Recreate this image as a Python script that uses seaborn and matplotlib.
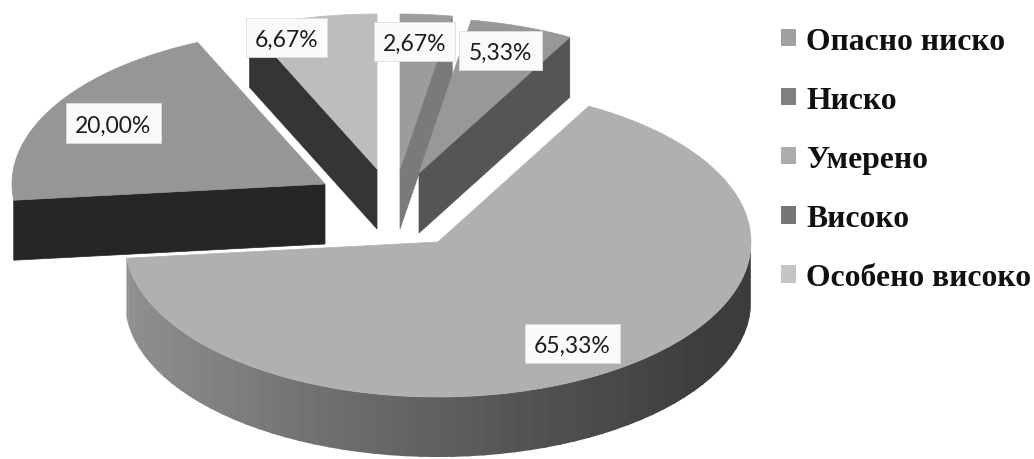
import numpy as np
import matplotlib
matplotlib.use("Agg")
import matplotlib.pyplot as plt
from matplotlib.patches import Patch, Rectangle
import seaborn as sns

# Share of each risk level, in percent
categories = ["Опасно ниско", "Ниско", "Умерено", "Високо", "Особено високо"]
shares = [2.67, 5.33, 65.33, 20.00, 6.67]
share_labels = ["2,67%", "5,33%", "65,33%", "20,00%", "6,67%"]

# Drawing style per slice
top_grays = ["#9c9c9c", "#989898", "#b0b0b0", "#969696", "#bdbdbd"]
cut_grays = ["#7a7a7a", "#555555", "#9a9a9a", "#262626", "#353535"]
legend_grays = ["#a0a0a0", "#7f7f7f", "#acacac", "#757575", "#c4c4c4"]

# Exploded position of each slice tip on the top surface
tips = [(400, 170), (419, 174), (438, 243), (325, 185), (377, 170)]
label_boxes = [(374, 23, 81, 39), (459, 32, 83, 39), (525, 325, 95, 39),
               (66, 104, 95, 40), (246, 19, 81, 39)]
RX, RY, DEPTH = 313, 155, 60

sns.set_theme(style="white")
fig = plt.figure(figsize=(10.34, 4.6), dpi=100)
ax = fig.add_axes([0, 0, 1, 1])
ax.set_xlim(0, 1034)
ax.set_ylim(460, 0)
ax.axis("off")

ends = np.cumsum(shares) / np.sum(shares) * 360
starts = np.r_[0, ends[:-1]]
wall_ramp = sns.blend_palette(["#3a3a3a", "#3e3e3e", "#505050", "#6a6a6a", "#848484", "#929292"], 60)


def rim(tip, deg):
    """Screen position of a rim point, angle measured clockwise from the top."""
    t = np.radians(deg)
    return tip[0] + RX * np.sin(t), tip[1] - RY * np.cos(t)


# Back slices first, the large front slice last
for i in [4, 0, 1, 3, 2]:
    a, b = starts[i], ends[i]
    tip = tips[i]

    # Radial cut face, only where it turns toward the viewer
    cut = b if b < 180 else (a if a > 180 else None)
    if cut is not None:
        ex, ey = rim(tip, cut)
        ax.fill([tip[0], ex, ex, tip[0]],
                [tip[1], ey, ey + DEPTH, tip[1] + DEPTH],
                color=cut_grays[i], lw=0.5, zorder=i + 1)

    # Outer wall on the front half of the rim
    lo, hi = max(a, 90), min(b, 270)
    if lo < hi and i == 2:
        edges = np.linspace(lo, hi, len(wall_ramp) + 1)
        for c, e0, e1 in zip(wall_ramp, edges[:-1], edges[1:]):
            arc = np.linspace(e0, e1 + 0.6, 6)
            xs, ys = rim(tip, arc)
            ax.fill(np.r_[xs, xs[::-1]], np.r_[ys, ys[::-1] + DEPTH],
                    color=c, lw=0, zorder=i + 1)

    # Top surface
    arc = np.linspace(a, b, 200)
    xs, ys = rim(tip, arc)
    ax.fill(np.r_[tip[0], xs], np.r_[tip[1], ys],
            color=top_grays[i], lw=0.5, zorder=i + 1)

# Percentage labels on white plates
for text, (x, y, w, h) in zip(share_labels, label_boxes):
    ax.add_patch(Rectangle((x, y), w, h, facecolor="#fafafa",
                           edgecolor="#dddddd", lw=0.6, zorder=10))
    ax.text(x + w / 2, y + h / 2, text, ha="center", va="center_baseline",
            family="Lato", fontsize=16.5, color="#1c1c1c", zorder=11)

handles = [Patch(facecolor=c, edgecolor="none") for c in legend_grays]
ax.legend(handles, categories, loc="upper left", bbox_to_anchor=(781 / 1034, 1 - 28 / 460),
          frameon=False, ncol=1, handlelength=0.47, handleheight=0.47,
          handletextpad=0.32, labelspacing=0.948, borderpad=0, borderaxespad=0,
          labelcolor="#111111",
          prop={"family": "Liberation Serif", "weight": "bold", "size": 22.8})

fig.savefig("out.png", dpi=100)
